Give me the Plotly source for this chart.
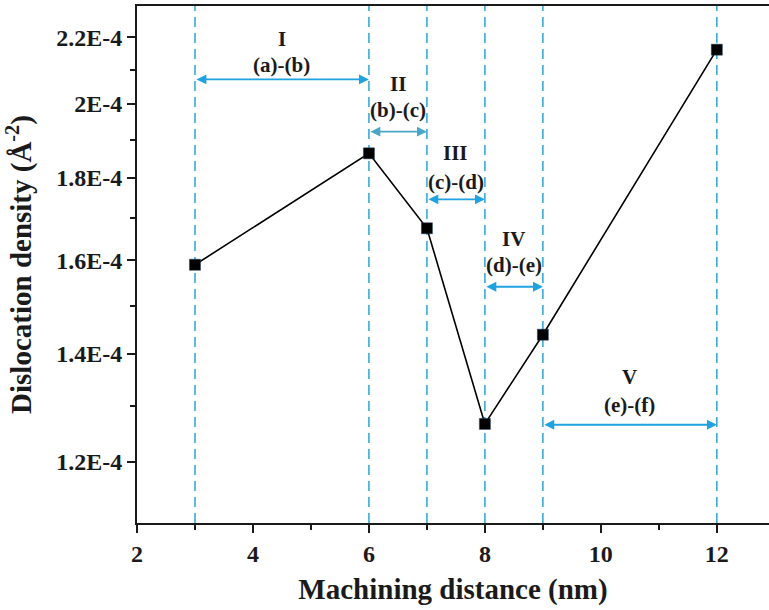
import plotly.graph_objects as go
import math

# Data
distance_nm = [3, 6, 7, 8, 9, 12]
dislocation_density = [1.59e-4, 1.864e-4, 1.675e-4, 1.267e-4, 1.439e-4, 2.161e-4]

y_tickvals = [1.2e-4, 1.4e-4, 1.6e-4, 1.8e-4, 2.0e-4, 2.2e-4]
y_ticktext = ["1.2E-4", "1.4E-4", "1.6E-4", "1.8E-4", "2E-4", "2.2E-4"]
y_minor = [1.3e-4, 1.5e-4, 1.7e-4, 1.9e-4, 2.1e-4]

x_tickvals = [2, 4, 6, 8, 10, 12]
x_ticktext = ["2", "4", "6", "8", "10", "12"]
x_minor = [3, 5, 7, 9, 11]

boundaries = [3, 6, 7, 8, 9, 12]
stage_names = ["I", "II", "III", "IV", "V"]
stage_labels = ["(a)-(b)", "(b)-(c)", "(c)-(d)", "(d)-(e)", "(e)-(f)"]
# vertical positions (fraction of plot height) for arrow, roman numeral, label
arrow_pos = [0.858, 0.757, 0.626, 0.457, 0.190]
roman_pos = [0.937, 0.849, 0.715, 0.550, 0.283]
label_pos = [0.885, 0.799, 0.660, 0.499, 0.228]
arrow_colors = ["#1fa2df", "#4aa6c6", "#1fa2df", "#1fa2df", "#1fa2df"]

FONT = "Liberation Serif"
BLUE_DASH = "#3aa9d8"
INK = "#1a1a1a"

fig = go.Figure()

for xb in boundaries:
    fig.add_vline(x=xb, line=dict(color=BLUE_DASH, width=1.6, dash="10px,6px"), layer="below")

fig.add_trace(go.Scatter(
    x=distance_nm, y=dislocation_density, mode="lines+markers",
    line=dict(color="black", width=1.6),
    marker=dict(symbol="square", size=11, color="black", line=dict(color="#1a3a5a", width=0.5)),
    showlegend=False,
))

for i in range(5):
    x0, x1 = boundaries[i], boundaries[i + 1]
    xm = (x0 + x1) / 2
    fig.add_annotation(
        x=x1, y=arrow_pos[i], xref="x", yref="y domain",
        ax=x0, ay=arrow_pos[i], axref="x", ayref="y domain",
        text="", showarrow=True, arrowside="end+start",
        arrowhead=2, arrowsize=1.1, arrowwidth=1.8, arrowcolor=arrow_colors[i],
        standoff=0, startstandoff=0,
    )
    fig.add_annotation(
        x=xm, y=roman_pos[i], xref="x", yref="y domain", text="<b>%s</b>" % stage_names[i],
        showarrow=False, xanchor="center", yanchor="middle",
        font=dict(family=FONT, size=21, color=INK),
    )
    fig.add_annotation(
        x=xm, y=label_pos[i], xref="x", yref="y domain", text="<b>%s</b>" % stage_labels[i],
        showarrow=False, xanchor="center", yanchor="middle",
        font=dict(family=FONT, size=21, color=INK),
    )

fig.update_layout(
    width=769, height=610,
    margin=dict(l=137, r=0, t=6, b=87),
    plot_bgcolor="white", paper_bgcolor="white",
    font=dict(family=FONT, color=INK),
    xaxis=dict(
        range=[2, 12.9], tickmode="array", tickvals=x_tickvals,
        ticktext=["<b>%s</b>" % t for t in x_ticktext],
        showline=True, linecolor=INK, linewidth=2, mirror=True,
        ticks="outside", ticklen=8, tickwidth=2, tickcolor=INK,
        showgrid=False, zeroline=False,
        minor=dict(tickmode="array", tickvals=x_minor, ticks="outside", ticklen=5, tickwidth=2, tickcolor=INK),
        tickfont=dict(family=FONT, size=24, color=INK),
        title=dict(text="<b>Machining distance (nm)</b>", font=dict(family=FONT, size=29, color=INK), standoff=13),
    ),
    yaxis=dict(
        type="log", range=[math.log10(1.1e-4), math.log10(2.3e-4)],
        tickmode="array", tickvals=y_tickvals,
        ticktext=["<b>%s</b>" % t for t in y_ticktext],
        showline=True, linecolor=INK, linewidth=2, mirror=False,
        ticks="outside", ticklen=8, tickwidth=2, tickcolor=INK,
        showgrid=False, zeroline=False, ticklabelstandoff=0,
        minor=dict(tickmode="array", tickvals=y_minor, ticks="outside", ticklen=5, tickwidth=2, tickcolor=INK, showgrid=False),
        tickfont=dict(family=FONT, size=24, color=INK),
        title=dict(text="<b>Dislocation density (Å<sup>-2</sup>)</b>", font=dict(family=FONT, size=29, color=INK), standoff=16),
    ),
)

fig.write_html("out.html", config={"displayModeBar": False},
               post_script="document.body.style.margin='0px';")
